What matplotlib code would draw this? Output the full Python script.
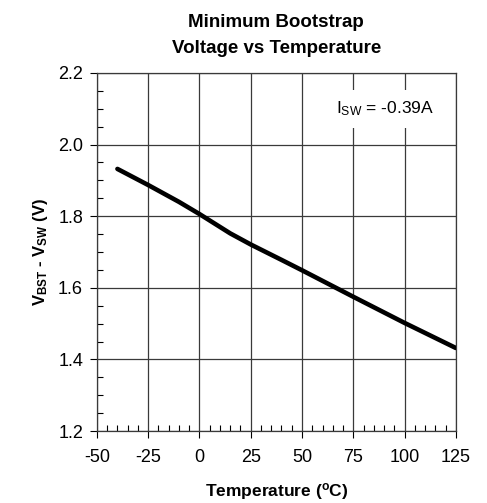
import numpy as np
import matplotlib.pyplot as plt
from matplotlib.ticker import MultipleLocator

# datos
temp = [-40, -25, -10, 0, 15, 25, 40, 50, 75, 100, 125]      # °C
v_bst = [1.932, 1.887, 1.840, 1.806, 1.752, 1.721, 1.678, 1.649, 1.575, 1.502, 1.432]  # V
x_ticks = [-50, -25, 0, 25, 50, 75, 100, 125]
y_ticks = [1.2, 1.4, 1.6, 1.8, 2.0, 2.2]

plt.rcParams['font.family'] = ['Liberation Sans', 'DejaVu Sans']
plt.rcParams['axes.unicode_minus'] = False
plt.rcParams['mathtext.fontset'] = 'custom'
plt.rcParams['mathtext.rm'] = 'Liberation Sans'
plt.rcParams['mathtext.it'] = 'Liberation Sans:italic'
plt.rcParams['mathtext.bf'] = 'Liberation Sans:bold'

fig = plt.figure(figsize=(4.87, 5.03), dpi=100)
ax = fig.add_axes([0.199, 0.143, 0.737, 0.712])

ax.plot(temp, v_bst, color='black', lw=3.3, solid_capstyle='round', zorder=3)

ax.set_xlim(-50, 125)
ax.set_ylim(1.2, 2.2)
ax.set_xticks(x_ticks)
ax.set_yticks(y_ticks)
ax.set_yticklabels([f"{v:.1f}" for v in y_ticks])
ax.xaxis.set_minor_locator(MultipleLocator(5))
ax.yaxis.set_minor_locator(MultipleLocator(0.05))
ax.tick_params(which='major', direction='out', length=5, width=0.8, labelsize=13)
ax.tick_params(axis='x', which='major', pad=8)
ax.tick_params(axis='y', which='major', pad=5)
ax.tick_params(which='minor', direction='in', length=4, width=0.8)
ax.grid(True, which='major', color='#3a3a3a', lw=0.9)
ax.set_axisbelow(True)
for s in ax.spines.values():
    s.set_color('#3a3a3a')
    s.set_linewidth(0.9)

ax.text(0.94, 0.9, r"I$_{\mathrm{SW}}$ = -0.39A", transform=ax.transAxes,
        ha='right', va='center', fontsize=12.5,
        bbox=dict(facecolor='white', edgecolor='none', pad=7), zorder=4)

ax.set_title("Minimum Bootstrap\nVoltage vs Temperature", fontsize=13.5,
             fontweight='bold', pad=14, linespacing=1.75)
ax.set_xlabel(r"Temperature ($\mathbf{^o}$C)", fontsize=12.5, fontweight='bold', labelpad=11)
ax.set_ylabel(r"$\mathbf{V_{BST}}$ - $\mathbf{V_{SW}}$ (V)", fontsize=12,
              fontweight='bold', labelpad=6)

plt.savefig("out.png", dpi=100)
